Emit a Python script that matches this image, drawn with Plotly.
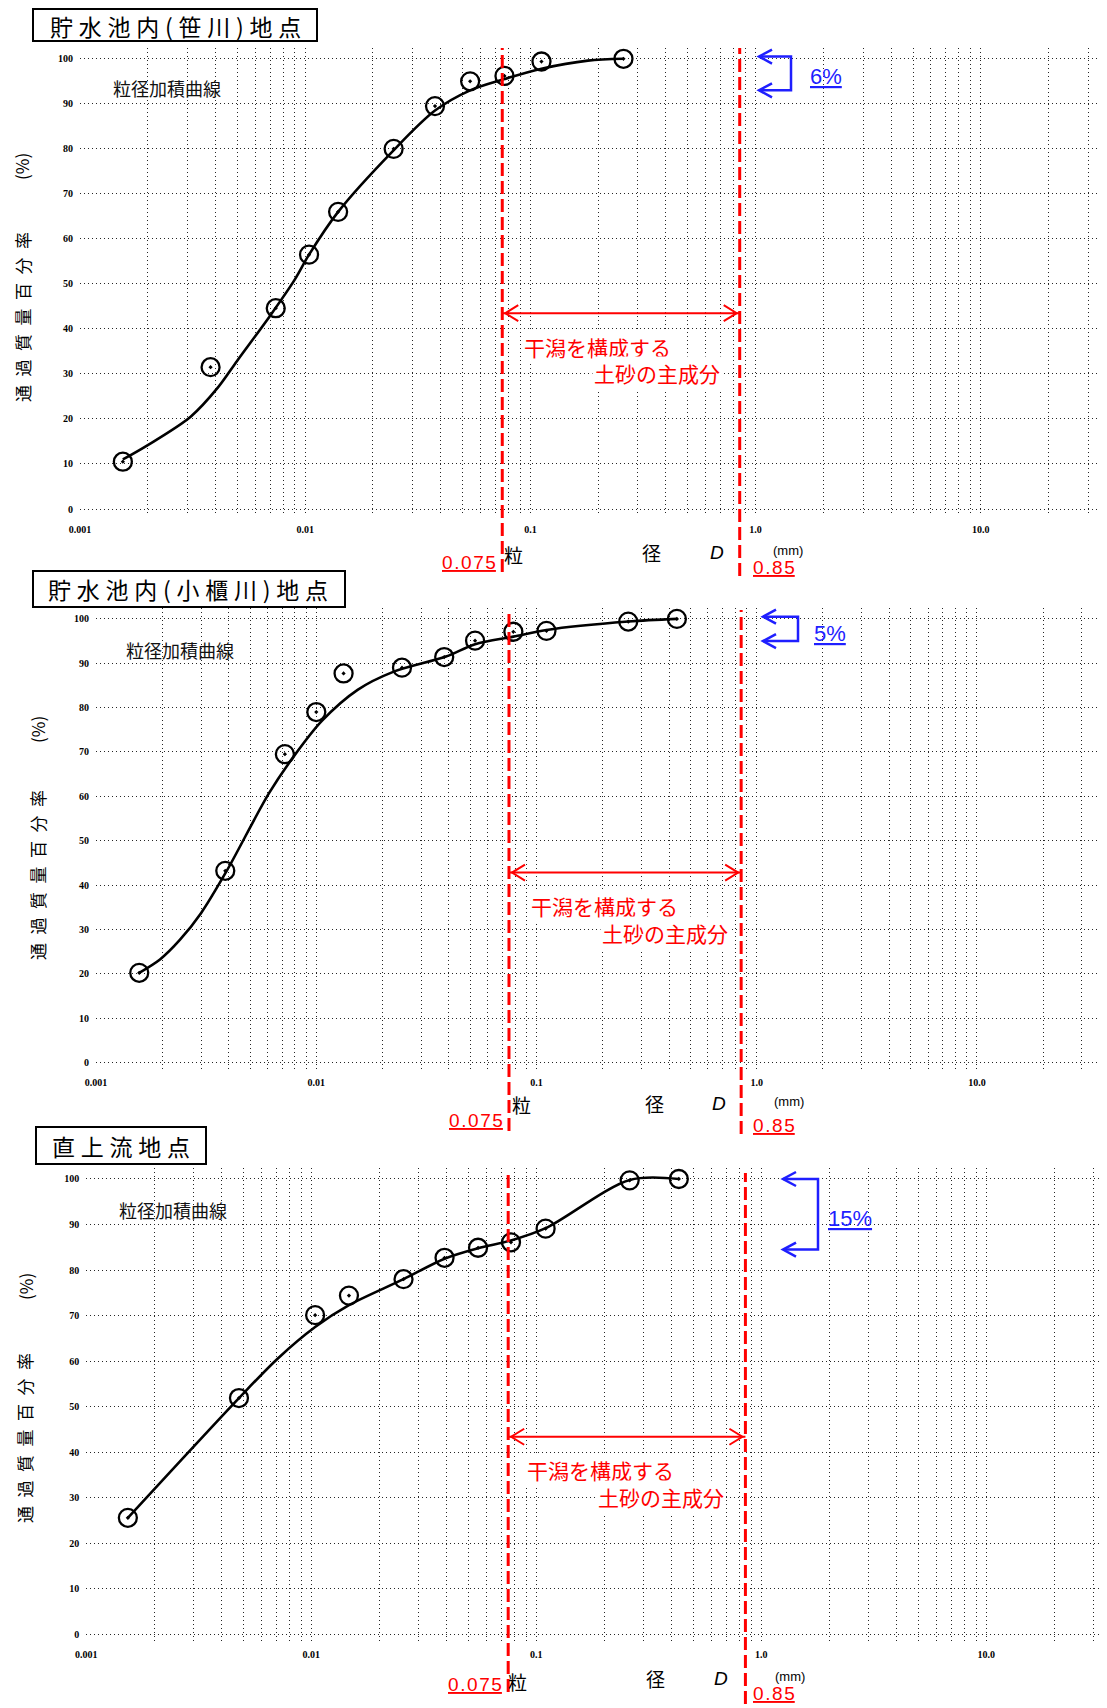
import math
import plotly.graph_objects as go

# page is drawn with an 8px body margin: figure is offset by 8px
OX, OY = 8, 8
FW, FH = 1099, 1700
CJK = "Noto Sans CJK JP"

# ---------------- data ----------------
panel_titles = ["貯水池内(笹川)地点", "貯水池内(小櫃川)地点", "直上流地点"]

# 貯水池内(笹川)
size_sasa = [0.00155, 0.0038, 0.0074, 0.0104, 0.0140, 0.0247, 0.0377, 0.0540, 0.0767, 0.112, 0.259]
pass_sasa = [10.5, 31.5, 44.6, 56.5, 66.0, 80.0, 89.5, 95.0, 96.2, 99.4, 100.0]
curve_size_sasa = [0.00155, 0.0020, 0.0031, 0.0041, 0.0050, 0.0070, 0.0090, 0.0104, 0.0140,
                   0.0245, 0.0377, 0.054, 0.0767, 0.112, 0.18, 0.259]
curve_pass_sasa = [11.0, 14.2, 20.5, 27.0, 33.0, 43.0, 51.0, 56.5, 66.0,
                   79.5, 88.5, 93.0, 95.5, 97.8, 99.6, 100.0]

# 貯水池内(小櫃川)
size_obitsu = [0.00157, 0.00386, 0.0072, 0.0100, 0.0133, 0.0245, 0.0381, 0.0526, 0.0785, 0.111, 0.261, 0.434]
pass_obitsu = [20.2, 43.2, 69.5, 79.0, 87.7, 89.0, 91.4, 95.1, 97.1, 97.3, 99.4, 100.0]
curve_size_obitsu = [0.00157, 0.00195, 0.0024, 0.0030, 0.0039, 0.0061, 0.0079, 0.0106, 0.0154, 0.0222,
                     0.0388, 0.0526, 0.0785, 0.111, 0.261, 0.434]
curve_pass_obitsu = [20.2, 23.2, 27.6, 33.7, 43.0, 60.7, 69.0, 77.0, 84.0, 88.0,
                     91.5, 94.3, 96.0, 97.5, 99.4, 100.0]

# 直上流
size_up = [0.00153, 0.00477, 0.0104, 0.0147, 0.0257, 0.0391, 0.0551, 0.0772, 0.110, 0.26, 0.43]
pass_up = [25.6, 51.9, 70.1, 74.4, 78.0, 82.7, 84.9, 86.1, 89.1, 99.7, 100.0]
curve_size_up = [0.00153, 0.00477, 0.0071, 0.0104, 0.0147, 0.0257, 0.0391, 0.0551,
                 0.0772, 0.110, 0.26, 0.43]
curve_pass_up = [25.6, 51.9, 60.6, 67.5, 72.3, 78.0, 82.5, 84.8,
                 86.5, 89.2, 99.8, 100.0]

fine_share = [6, 5, 15]          # % shown by the blue bracket
sand_min, sand_max = 0.075, 0.85  # mm, main component of the tidal flat
arrow_level = [43.5, 42.8, 43.4]  # % level of the red double arrow
bracket_top = [100.5, 100.5, 100.0]
bracket_bottom = [93.0, 95.0, 84.5]

x_tick_vals = [0.001, 0.01, 0.1, 1.0, 10.0]
x_tick_text = ["0.001", "0.01", "0.1", "1.0", "10.0"]
y_tick_vals = [0, 10, 20, 30, 40, 50, 60, 70, 80, 90, 100]
y_tick_text = [str(v) for v in y_tick_vals]

series = [
    (size_sasa, pass_sasa, curve_size_sasa, curve_pass_sasa),
    (size_obitsu, pass_obitsu, curve_size_obitsu, curve_pass_obitsu),
    (size_up, pass_up, curve_size_up, curve_pass_up),
]

# ---------------- geometry (page pixels) ----------------
geom = [
    dict(px_min=80.0, px_dec=225.2, px_right=1100.0, py0=509.0, py100=58.8,
         box=(33, 9, 317, 41), title_xy=(175, 26),
         ylab_xy=(22, 317), pct_xy=(22, 167), clbl_xy=(167, 88),
         xlab=((513, 554), (651, 552), (717, 552), (788, 550)),
         red_top=48, red_bot=(572, 576),
         l075=(469, 562), l085=(774, 567),
         rt1=(597, 347), rt2=(657, 373),
         br_x=(759, 791), pct_lbl=(826, 76)),
    dict(px_min=96.1, px_dec=220.2, px_right=1105.0, py0=1062.4, py100=618.9,
         box=(33, 571, 345, 607), title_xy=(188, 589),
         ylab_xy=(37, 875), pct_xy=(37, 730), clbl_xy=(180, 650),
         xlab=((521, 1104), (654, 1103), (719, 1103), (789, 1101)),
         red_top=610, red_bot=(1131, 1134),
         l075=(476, 1120), l085=(774, 1125),
         rt1=(604, 906), rt2=(665, 933),
         br_x=(763, 798), pct_lbl=(830, 633)),
    dict(px_min=86.3, px_dec=225.0, px_right=1100.0, py0=1634.4, py100=1179.0,
         box=(36, 1127, 206, 1164), title_xy=(121, 1146),
         ylab_xy=(24, 1438), pct_xy=(25, 1287), clbl_xy=(173, 1210),
         xlab=((517, 1681), (655, 1678), (721, 1678), (790, 1676)),
         red_top=1173, red_bot=(1692, 1704),
         l075=(475, 1684), l085=(774, 1693),
         rt1=(600, 1470), rt2=(661, 1497),
         br_x=(783, 818), pct_lbl=(850, 1218)),
]

Y_LO, Y_HI = -1.5, 102.5


def ypx(g, v):
    return g["py0"] - (g["py0"] - g["py100"]) * v / 100.0


def px2paper(xp, yp):
    return (xp - OX) / FW, 1 - (yp - OY) / FH


# grid positions on log paper
grid_vals = []
grid_text = []
for k in range(-3, 2):
    for m in range(1, 10):
        v = m * 10 ** k
        grid_vals.append(v)
        grid_text.append("<b>" + x_tick_text[k + 3] + "</b>" if m == 1 else "")
for m in (2, 3):
    grid_vals.append(m * 10)
    grid_text.append("")

fig = go.Figure()
shapes = []
anns = []
RED = "#ff0000"
BLUE = "#1f1fff"

for i, g in enumerate(geom):
    n = i + 1
    xs = "" if n == 1 else str(n)
    xa, ya = "x" + xs, "y" + xs
    sx, sy, cx, cy = series[i]

    fig.add_trace(go.Scatter(x=cx, y=cy, mode="lines", xaxis=xa, yaxis=ya,
                             line=dict(color="black", width=2.6, shape="spline", smoothing=0.9),
                             hoverinfo="skip", showlegend=False))
    fig.add_trace(go.Scatter(x=sx, y=sy, mode="markers", xaxis=xa, yaxis=ya,
                             marker=dict(symbol="circle-open-dot", size=18, color="black",
                                         line=dict(width=2.3, color="black")),
                             showlegend=False))

    xr = [-3, -3 + (g["px_right"] - g["px_min"]) / g["px_dec"]]
    xdom = [(g["px_min"] - OX) / FW, min(1.0, (g["px_right"] - OX) / FW)]
    ydom = [px2paper(0, ypx(g, Y_LO))[1], px2paper(0, ypx(g, Y_HI))[1]]
    axis_common = dict(showline=False, zeroline=False, automargin=False,
                       gridcolor="#262626", gridwidth=1, griddash="1px,3px",
                       ticks="outside", ticklen=4, tickcolor="rgba(0,0,0,0)",
                       tickfont=dict(family="Liberation Serif", size=10, color="black"))
    fig.update_layout(**{
        ("xaxis" + xs): dict(type="log", range=xr, domain=xdom, anchor=ya,
                             tickmode="array", tickvals=grid_vals, ticktext=grid_text,
                             **axis_common),
        ("yaxis" + xs): dict(range=[Y_LO, Y_HI], domain=ydom, anchor=xa,
                             tickmode="array", tickvals=y_tick_vals,
                             ticktext=["<b>" + t + "</b>" for t in y_tick_text],
                             **axis_common),
    })

    # title box
    bx0, by0, bx1, by1 = g["box"]
    p0 = px2paper(bx0, by1)
    p1 = px2paper(bx1, by0)
    shapes.append(dict(type="rect", xref="paper", yref="paper", x0=p0[0], y0=p0[1], x1=p1[0], y1=p1[1],
                       line=dict(color="black", width=2), fillcolor="white", layer="above"))
    tx, ty = px2paper(*g["title_xy"])
    anns.append(dict(x=tx, y=ty, xref="paper", yref="paper", showarrow=False,
                     text="\u2005".join(list(panel_titles[i])),
                     font=dict(family=CJK, size=23, color="black"),
                     xanchor="center", yanchor="middle"))

    # y-axis label
    lx, ly = px2paper(*g["ylab_xy"])
    anns.append(dict(x=lx, y=ly, xref="paper", yref="paper", showarrow=False, textangle=-90,
                     text="\u2002".join(list("通過質量百分率")),
                     font=dict(family=CJK, size=17, color="black"),
                     xanchor="center", yanchor="middle"))
    lx, ly = px2paper(*g["pct_xy"])
    anns.append(dict(x=lx, y=ly, xref="paper", yref="paper", showarrow=False, textangle=-90,
                     text="(%)", font=dict(family=CJK, size=17, color="black"),
                     xanchor="center", yanchor="middle"))
    # curve label
    lx, ly = px2paper(*g["clbl_xy"])
    anns.append(dict(x=lx, y=ly, xref="paper", yref="paper", showarrow=False,
                     text="粒径加積曲線", font=dict(family=CJK, size=18, color="#111"),
                     xanchor="center", yanchor="middle"))
    # x-axis label pieces
    xl_texts = ["粒", "径", "<i>D</i>", "(mm)"]
    xl_fonts = [dict(family=CJK, size=19, color="black"),
                dict(family=CJK, size=19, color="black"),
                dict(family="Liberation Sans", size=19, color="black"),
                dict(family="Liberation Sans", size=13, color="black")]
    for (xp, yp), t, f in zip(g["xlab"], xl_texts, xl_fonts):
        lx, ly = px2paper(xp, yp)
        anns.append(dict(x=lx, y=ly, xref="paper", yref="paper", showarrow=False, text=t, font=f,
                         xanchor="center", yanchor="middle"))

    # red dashed reference lines
    for xv, bot in zip((sand_min, sand_max), g["red_bot"]):
        shapes.append(dict(type="line", xref=xa, yref="paper", x0=xv, x1=xv,
                           y0=px2paper(0, bot)[1], y1=px2paper(0, g["red_top"])[1],
                           line=dict(color=RED, width=3, dash="13px,5px"), layer="above"))
    # red value labels
    for (xp, yp), t in ((g["l075"], "0.075"), (g["l085"], "0.85")):
        lx, ly = px2paper(xp, yp)
        anns.append(dict(x=lx, y=ly, xref="paper", yref="paper", showarrow=False,
                         text="<u>" + "\u200a".join(list(t)) + "</u>",
                         font=dict(family="Liberation Sans", size=19, color=RED),
                         xanchor="center", yanchor="middle"))
    # red double arrow
    ay = arrow_level[i]
    shapes.append(dict(type="line", xref=xa, yref=ya, x0=sand_min, x1=sand_max, y0=ay, y1=ay,
                       line=dict(color=RED, width=2), layer="above"))
    for xv, sgn in ((sand_min, 1), (sand_max, -1)):
        shapes.append(dict(type="path", xref=xa, yref=ya, xsizemode="pixel", ysizemode="pixel",
                           xanchor=xv, yanchor=ay,
                           path=f"M {sgn*16},8 L {sgn*3},0 L {sgn*16},-8",
                           line=dict(color=RED, width=2), layer="above"))
    # red text
    for (xp, yp), t in ((g["rt1"], "干潟を構成する"), (g["rt2"], "土砂の主成分")):
        lx, ly = px2paper(xp, yp)
        anns.append(dict(x=lx, y=ly, xref="paper", yref="paper", showarrow=False, text=t,
                         font=dict(family=CJK, size=21, color=RED), bgcolor="white",
                         xanchor="center", yanchor="middle"))

    # blue bracket
    tip, vert = g["br_x"]
    yt, yb = ypx(g, bracket_top[i]), ypx(g, bracket_bottom[i])

    def pp(xp, yp):
        a, b = px2paper(xp, yp)
        return f"{a:.5f},{b:.5f}"
    path = f"M {pp(tip, yt)} L {pp(vert, yt)} L {pp(vert, yb)} L {pp(tip, yb)}"
    shapes.append(dict(type="path", xref="paper", yref="paper", path=path,
                       line=dict(color=BLUE, width=2.5), layer="above"))
    for yy in (yt, yb):
        path = f"M {pp(tip + 13, yy - 7)} L {pp(tip, yy)} L {pp(tip + 13, yy + 7)}"
        shapes.append(dict(type="path", xref="paper", yref="paper", path=path,
                           line=dict(color=BLUE, width=2.5), layer="above"))
    lx, ly = px2paper(*g["pct_lbl"])
    anns.append(dict(x=lx, y=ly, xref="paper", yref="paper", showarrow=False,
                     text=f"<u>{fine_share[i]}%</u>",
                     font=dict(family="Liberation Sans", size=22, color=BLUE),
                     xanchor="center", yanchor="middle"))

fig.update_layout(width=FW, height=FH, margin=dict(l=0, r=0, t=0, b=0),
                  paper_bgcolor="white", plot_bgcolor="white",
                  showlegend=False, shapes=shapes, annotations=anns)

fig.write_html("out.html")
